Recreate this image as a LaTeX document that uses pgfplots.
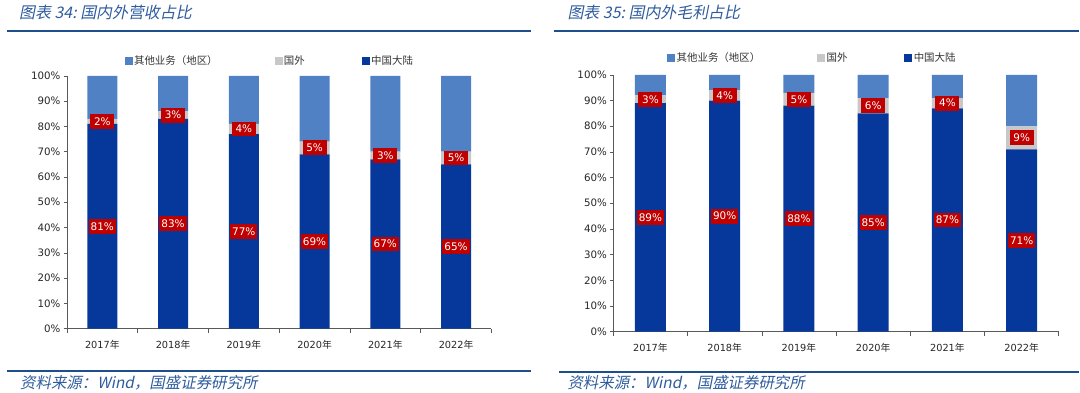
\documentclass[border=0pt]{standalone}
\usepackage{pgfplots}
\pgfplotsset{compat=1.18}
\usepackage{pgfplotstable}
\usepackage{fontspec}
\setmainfont{DejaVu Sans}
\newfontfamily\cjk{Noto Sans CJK SC}
\newfontfamily\cjkit[FakeSlant=0.2]{Noto Sans CJK SC}

\definecolor{cMain}{HTML}{05389A}
\definecolor{cOver}{HTML}{C8C8C8}
\definecolor{cOther}{HTML}{4F81C4}
\definecolor{cRed}{HTML}{C00000}
\definecolor{cAxis}{HTML}{595959}
\definecolor{cTitle}{HTML}{2E5C9E}
\definecolor{cLine}{HTML}{1F4E8C}

\pgfplotstableread{
x main over other
0 81 2 17
1 83 3 14
2 77 4 19
3 69 5 26
4 67 3 30
5 65 5 30
}\leftdata

\pgfplotstableread{
x main over other
0 89 3 8
1 90 4 6
2 88 5 7
3 85 6 9
4 87 4 9
5 71 9 20
}\rightdata

\tikzset{lblbox/.style={fill=cRed, text=white, inner xsep=2bp, inner ysep=3.5bp,
  minimum width=24bp, font=\fontsize{10.5}{12}\selectfont}}

\pgfplotsset{
  sq/.style={legend image code/.code={\fill[#1] (0bp,-3.5bp) rectangle (7bp,3.5bp);}},
  panel/.style={
    scale only axis, ybar stacked, bar shift=0pt,
    ymin=0, ymax=100, xmin=-0.5, xmax=5.5, clip=false,
    axis x line*=bottom, axis y line*=left,
    axis line style={draw=cAxis, line width=0.6pt},
    tick align=outside,
    xtick={0,...,5},
    xticklabels={2017{\cjk 年},2018{\cjk 年},2019{\cjk 年},2020{\cjk 年},2021{\cjk 年},2022{\cjk 年}},
    major x tick style={draw=none},
    minor xtick={-0.5,0.5,...,5.5},
    minor x tick style={draw=cAxis, line width=0.6pt},
    minor tick length=4bp,
    ytick={0,10,...,100},
    major tick length=3bp,
    y tick style={draw=cAxis, line width=0.6pt},
    /pgf/number format/assume math mode=true,
    yticklabel={\pgfmathprintnumber{\tick}\%},
    yticklabel style={font=\fontsize{10.3}{12}\selectfont, text=black!85},
    xticklabel style={font=\fontsize{9.8}{12}\selectfont, text=black!85, yshift=-5bp},
    legend columns=3,
    legend cell align=left,
    legend style={draw=none, fill=none, anchor=center,
      font=\fontsize{10.5}{12}\selectfont\cjk, text=black!80,
      /tikz/every even column/.append style={column sep=55bp},
      /tikz/every odd column/.append style={column sep=0bp}},
  },
}
% inside an axis: remember where a label goes; after the axis: draw it
\newcommand\at[3]{\coordinate (#1) at (axis cs:#2,#3);}
\newcommand\lb[2]{\node[lblbox] at (#1) {#2\%};}

\begin{document}
\begin{tikzpicture}[x=1bp,y=1bp]
\path (0,0) rectangle (1080,393);

% headers and footers
\node[anchor=west, text=cTitle, font=\fontsize{16}{18}\selectfont\cjkit, inner sep=0] at (19,381) {图表 34:\ 国内外营收占比};
\node[anchor=west, text=cTitle, font=\fontsize{16}{18}\selectfont\cjkit, inner sep=0] at (568,381) {图表 35:\ 国内外毛利占比};
\draw[cLine, line width=2.5bp] (7,362) -- (532,362);
\draw[cLine, line width=2.5bp] (555,362) -- (1080,362);
\draw[cLine, line width=2bp] (7,21.5) -- (532,21.5);
\draw[cLine, line width=2bp] (560,21) -- (1080,21);
\node[anchor=west, text=cTitle, font=\fontsize{15.5}{17}\selectfont\cjkit, inner sep=0] at (20,10) {资料来源：Wind，国盛证券研究所};
\node[anchor=west, text=cTitle, font=\fontsize{15.5}{17}\selectfont\cjkit, inner sep=0] at (568,10) {资料来源：Wind，国盛证券研究所};

% left panel
\begin{axis}[panel, at={(67bp,64bp)}, anchor=south west, width=425bp, height=253bp,
  bar width=30bp, legend style={at={(0.478,1.059)}}]
\addlegendimage{sq=cOther}\addlegendentry{其他业务（地区）}
\addlegendimage{sq=cOver}\addlegendentry{国外}
\addlegendimage{sq=cMain}\addlegendentry{中国大陆}
\addplot[fill=cMain, draw=none, forget plot] table[x=x,y=main]{\leftdata};
\addplot[fill=cOver, draw=none, forget plot] table[x=x,y=over]{\leftdata};
\addplot[fill=cOther, draw=none, forget plot] table[x=x,y=other]{\leftdata};
\at{La0}{0}{40.5}\at{Lb0}{0}{82}
\at{La1}{1}{41.5}\at{Lb1}{1}{84.5}
\at{La2}{2}{38.5}\at{Lb2}{2}{79}
\at{La3}{3}{34.5}\at{Lb3}{3}{71.5}
\at{La4}{4}{33.5}\at{Lb4}{4}{68.5}
\at{La5}{5}{32.5}\at{Lb5}{5}{67.5}
\end{axis}
\lb{La0}{81}\lb{Lb0}{2}
\lb{La1}{83}\lb{Lb1}{3}
\lb{La2}{77}\lb{Lb2}{4}
\lb{La3}{69}\lb{Lb3}{5}
\lb{La4}{67}\lb{Lb4}{3}
\lb{La5}{65}\lb{Lb5}{5}

% right panel
\begin{axis}[panel, at={(614bp,61bp)}, anchor=south west, width=446bp, height=257bp,
  bar width=31bp, legend style={at={(0.447,1.066)}}]
\addlegendimage{sq=cOther}\addlegendentry{其他业务（地区）}
\addlegendimage{sq=cOver}\addlegendentry{国外}
\addlegendimage{sq=cMain}\addlegendentry{中国大陆}
\addplot[fill=cMain, draw=none, forget plot] table[x=x,y=main]{\rightdata};
\addplot[fill=cOver, draw=none, forget plot] table[x=x,y=over]{\rightdata};
\addplot[fill=cOther, draw=none, forget plot] table[x=x,y=other]{\rightdata};
\at{Ra0}{0}{44.5}\at{Rb0}{0}{90.5}
\at{Ra1}{1}{45}\at{Rb1}{1}{92}
\at{Ra2}{2}{44}\at{Rb2}{2}{90.5}
\at{Ra3}{3}{42.5}\at{Rb3}{3}{88}
\at{Ra4}{4}{43.5}\at{Rb4}{4}{89}
\at{Ra5}{5}{35.5}\at{Rb5}{5}{75.5}
\end{axis}
\lb{Ra0}{89}\lb{Rb0}{3}
\lb{Ra1}{90}\lb{Rb1}{4}
\lb{Ra2}{88}\lb{Rb2}{5}
\lb{Ra3}{85}\lb{Rb3}{6}
\lb{Ra4}{87}\lb{Rb4}{4}
\lb{Ra5}{71}\lb{Rb5}{9}
\end{tikzpicture}
\end{document}
